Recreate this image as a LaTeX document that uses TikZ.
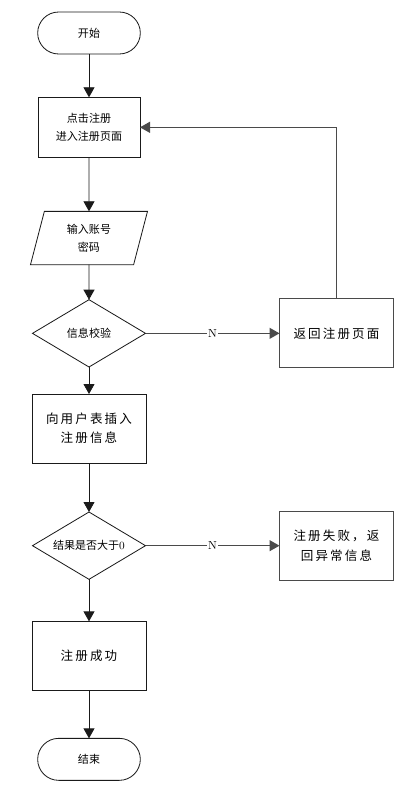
\documentclass[tikz,border=0pt]{standalone}
\usepackage{fontspec}
\newfontfamily\cjk{Noto Sans CJK SC}
\newfontfamily\cjkwide[LetterSpace=17]{Noto Sans CJK SC}
\usepackage{xcolor}
\definecolor{cLine}{HTML}{1A1A1A}
\definecolor{cSide}{HTML}{4A4A4A}
\usetikzlibrary{positioning,arrows.meta,shapes.geometric}
\tikzset{
  node-box/.style={draw=cLine,line width=0.7pt,outer sep=0pt,
    minimum width=3.42cm,minimum height=2.07cm,align=center,
    font=\cjkwide\fontsize{10.7}{16.4}\selectfont},
  node-term/.style={draw=cLine,line width=0.7pt,outer sep=0pt,
    rounded corners=0.63cm,minimum width=3.08cm,minimum height=1.26cm,
    align=center,font=\cjk\fontsize{9.4}{15}\selectfont},
  node-io/.style={draw=cLine,line width=0.7pt,outer sep=0pt,trapezium,
    trapezium left angle=63.4,trapezium right angle=116.6,
    trapezium stretches body,minimum width=3.51cm,minimum height=1.6cm,
    inner sep=0pt,align=center,font=\cjk\fontsize{9.4}{15}\selectfont},
  node-dec/.style={draw=cLine,line width=0.7pt,outer sep=0pt,diamond,
    aspect=1.66,inner sep=0pt,minimum width=3.39cm,minimum height=2.02cm,
    align=center,font=\cjk\fontsize{9.4}{15}\selectfont},
  node-side/.style={node-box,draw=cSide,line width=1.1pt},
  arrow/.style={-{Triangle[length=3mm,width=3.3mm]},line width=0.7pt,draw=cLine},
  arrow-side/.style={arrow,draw=cSide,line width=1pt},
  no-label/.style={fill=white,inner sep=1pt,font=\fontsize{10}{12}\selectfont},
}
\begin{document}
\begin{tikzpicture}
  \useasboundingbox (-2.67,0.99) rectangle (9.9,-22.86);
  \node[node-term] (start) {开始};
  \node[node-box,below=1.3cm of start,minimum width=3.06cm,minimum height=1.8cm,
    font=\cjk\fontsize{9.4}{15}\selectfont] (click) {点击注册\\进入注册页面};
  \node[node-io,below=1.62cm of click] (input) {输入账号\\密码};
  \node[node-dec,below=1.05cm of input] (check) {信息校验};
  \node[node-box,below=0.81cm of check] (insert) {向用户表插入\\注册信息};
  \node[node-dec,below=1.47cm of insert] (result) {结果是否大于{\rmfamily 0}};
  \node[node-box,below=1.26cm of result] (ok) {注册成功};
  \node[node-term,below=1.44cm of ok] (end) {结束};
  \node[node-side,right=4.02cm of check] (back) {返回注册页面};
  \node[node-side,right=4.02cm of result] (fail) {注册失败，返\\回异常信息};

  \draw[arrow] (start) -- (click);
  \draw[arrow] (click) -- (input);
  \draw[arrow] (input) -- (check);
  \draw[arrow] (check) -- (insert);
  \draw[arrow] (insert) -- (result);
  \draw[arrow] (result) -- (ok);
  \draw[arrow] (ok) -- (end);
  \draw[arrow-side] (check) -- node[no-label]{N} (back);
  \draw[arrow-side] (result) -- node[no-label]{N} (fail);
  \draw[arrow-side] (back.north) |- (click.east);
\end{tikzpicture}
\end{document}
